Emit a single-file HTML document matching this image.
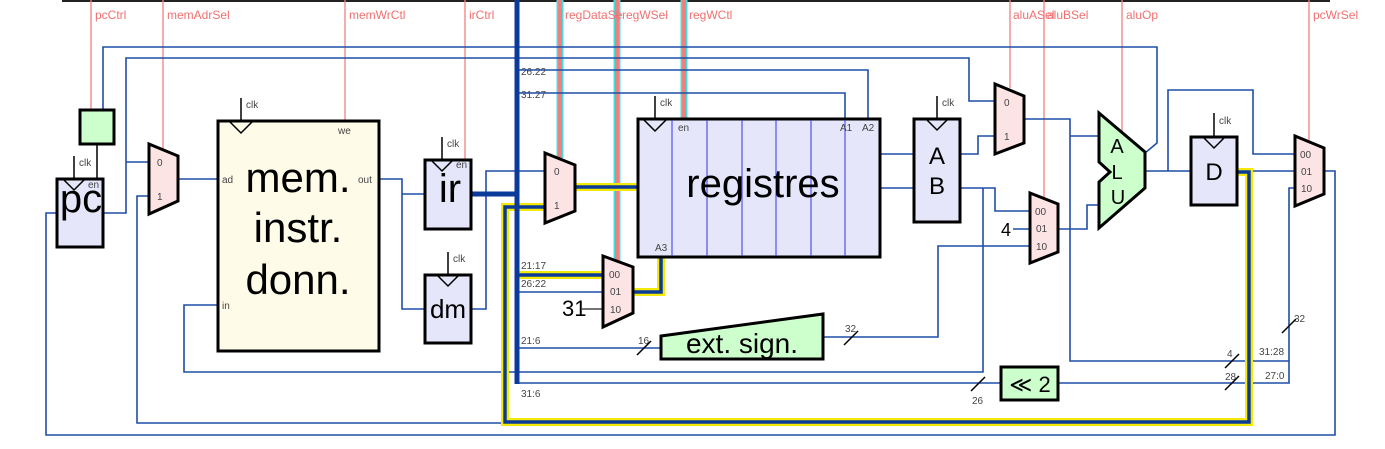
<!DOCTYPE html>
<html><head><meta charset="utf-8"><style>
html,body{margin:0;padding:0;background:#fff;}
svg{display:block;}
text{font-family:"Liberation Sans","DejaVu Sans",sans-serif;}
.c{fill:#f07070;font-size:12px;}
.s{fill:#444;font-size:10px;}
.w{fill:none;stroke:#1f4ea8;stroke-width:1.6;}
.p{stroke:#f08080;stroke-width:1.3;}
</style></head><body>
<svg width="1385" height="449" viewBox="0 0 1385 449" xmlns="http://www.w3.org/2000/svg">
<rect width="1385" height="449" fill="#fff"/>
<line x1="62" y1="1" x2="1330" y2="1" stroke="#222" stroke-width="2"/>

<line class="p" x1="91" y1="0" x2="91" y2="109"/>
<line class="p" x1="163" y1="0" x2="163" y2="150"/>
<line class="p" x1="345" y1="0" x2="345" y2="121"/>
<line class="p" x1="465" y1="0" x2="465" y2="159"/>
<line class="p" x1="1010" y1="0" x2="1010" y2="88"/>
<line class="p" x1="1044" y1="0" x2="1044" y2="199"/>
<line class="p" x1="1122" y1="0" x2="1122" y2="132"/>
<line class="p" x1="1309" y1="0" x2="1309" y2="142"/>
<g stroke="#40e0e0" stroke-width="7"><line x1="560" y1="0" x2="560" y2="158"/><line x1="617" y1="0" x2="617" y2="262"/><line x1="684" y1="0" x2="684" y2="118"/></g>
<g stroke="#f08080" stroke-width="4"><line x1="560" y1="0" x2="560" y2="158"/><line x1="617" y1="0" x2="617" y2="262"/><line x1="684" y1="0" x2="684" y2="118"/></g>
<text class="c" x="95" y="19">pcCtrl</text>
<text class="c" x="167" y="19">memAdrSel</text>
<text class="c" x="349" y="19">memWrCtl</text>
<text class="c" x="469" y="19">irCtrl</text>
<text class="c" x="565" y="19">regDataSe</text>
<text class="c" x="622" y="19">regWSel</text>
<text class="c" x="689" y="19">regWCtl</text>
<text class="c" x="1013" y="19">aluASel</text>
<text class="c" x="1047" y="19">aluBSel</text>
<text class="c" x="1126" y="19">aluOp</text>
<text class="c" x="1313" y="19">pcWrSel</text>

<polyline class="w" points="103,109 103,47 1157,47 1157,143 1145,153"/>
<polyline class="w" points="103,213 126,213 126,58 969,58 969,101 995,101"/>
<polyline class="w" points="126,162 149,162"/>
<polyline class="w" points="178,179 218,179"/>
<polyline class="w" points="379,179 402,179 402,309 424,309"/>
<polyline class="w" points="402,194 424,194"/>
<polyline class="w" points="471,309 486,309 486,171 545,171"/>
<polyline class="w" points="218,305 184,305 184,372 983,372 983,188"/>
<polyline class="w" points="149,196 137,196 137,423 505,423"/>
<polyline class="w" points="56,213 46,213 46,435 1335,435 1335,171 1324,171"/>
<polyline class="w" points="517,70 868,70 868,118"/>
<polyline class="w" points="517,93 845,93 845,118"/>
<polyline class="w" points="517,292 603,292"/>
<polyline class="w" points="517,348 661,348"/>
<polyline class="w" points="517,383 1001,383"/>
<polyline class="w" points="880,154 914,154"/>
<polyline class="w" points="880,188 914,188"/>
<polyline class="w" points="960,154 978,154 978,136 995,136"/>
<polyline class="w" points="960,188 995,188 995,211 1030,211"/>
<polyline class="w" points="823,337 938,337 938,246 1030,246"/>
<polyline class="w" points="1013,229 1030,229"/>
<polyline class="w" points="1024,119 1070,119 1070,361 1289,361"/>
<polyline class="w" points="1070,136 1099,136"/>
<polyline class="w" points="1058,229 1087,229 1087,205 1099,205"/>
<polyline class="w" points="1145,171 1191,171"/>
<polyline class="w" points="1168,171 1168,90 1253,90 1253,154 1295,154"/>
<polyline class="w" points="1237,171 1295,171"/>
<polyline class="w" points="1295,188 1289,188 1289,383 1058,383"/>
<line x1="582" y1="309" x2="603" y2="309" stroke="#222" stroke-width="1.2"/>

<g fill="none" stroke="#f5e90a" stroke-width="8">
<polyline points="1237,172 1249,172 1249,422 505,422 505,207 545,207"/>
<polyline points="575,187 638,187"/>
<polyline points="633,292 661,292 661,257"/>
<polyline points="517,275 603,275"/>
</g>
<g fill="none" stroke="#0a3a9a" stroke-width="3.5">
<polyline points="1237,172 1249,172 1249,422 505,422 505,207 545,207"/>
<polyline points="575,187 638,187"/>
<polyline points="633,292 661,292 661,257"/>
<polyline points="517,275 603,275"/>
</g>
<line x1="517" y1="0" x2="517" y2="384" stroke="#0a3a9a" stroke-width="5"/>
<line x1="471" y1="194" x2="517" y2="194" stroke="#0a3a9a" stroke-width="5"/>

<text class="s" x="521" y="75">26:22</text>
<text class="s" x="521" y="98">31:27</text>
<text class="s" x="521" y="269">21:17</text>
<text class="s" x="521" y="287">26:22</text>
<text class="s" x="521" y="344">21:6</text>
<text class="s" x="521" y="397">31:6</text>
<text class="s" x="638" y="344">16</text>
<text class="s" x="845" y="332">32</text>
<text class="s" x="972" y="404">26</text>
<text class="s" x="1227" y="357">4</text>
<text class="s" x="1225" y="380">28</text>
<text class="s" x="1259" y="355">31:28</text>
<text class="s" x="1265" y="379">27:0</text>
<text class="s" x="1294" y="322">32</text>
<g stroke="#000" stroke-width="1.5">
<line x1="637" y1="355" x2="651" y2="341"/>
<line x1="844" y1="345" x2="858" y2="331"/>
<line x1="971" y1="391" x2="985" y2="377"/>
<line x1="1225" y1="368" x2="1239" y2="354"/>
<line x1="1225" y1="390" x2="1239" y2="376"/>
<line x1="1282" y1="333" x2="1296" y2="319"/>
</g>

<rect x="80" y="110" width="34" height="34" fill="#ccffcc" stroke="#000" stroke-width="3"/>
<line x1="97" y1="145" x2="97" y2="178" stroke="#000" stroke-width="1.5"/>
<rect x="57" y="179" width="46" height="68" fill="#e6e6fa" stroke="#000" stroke-width="3"/>
<line x1="74" y1="156" x2="74" y2="179" stroke="#000" stroke-width="1.5"/>
<polyline points="64,180 74,190 84,180" fill="none" stroke="#000" stroke-width="1.5"/>
<text class="s" x="79" y="166">clk</text>
<text class="s" x="88" y="188">en</text>
<text x="81" y="212" font-size="40" text-anchor="middle">pc</text>

<polygon points="149,144 178,156 178,201 149,214" fill="#fce4e4" stroke="#000" stroke-width="3"/>
<text class="s" x="157" y="166">0</text>
<text class="s" x="157" y="200">1</text>

<rect x="218" y="121" width="161" height="230" fill="#fefbe8" stroke="#000" stroke-width="3"/>
<line x1="241" y1="98" x2="241" y2="121" stroke="#000" stroke-width="1.5"/>
<polyline points="230,122 241,133 252,122" fill="none" stroke="#000" stroke-width="1.5"/>
<text class="s" x="246" y="108">clk</text>
<text class="s" x="338" y="134">we</text>
<text class="s" x="222" y="183">ad</text>
<text class="s" x="358" y="183">out</text>
<text class="s" x="222" y="309">in</text>
<g font-size="42" text-anchor="middle"><text x="298" y="192">mem.</text><text x="298" y="242">instr.</text><text x="298" y="294">donn.</text></g>

<rect x="425" y="160" width="46" height="69" fill="#e6e6fa" stroke="#000" stroke-width="3"/>
<line x1="442" y1="137" x2="442" y2="160" stroke="#000" stroke-width="1.5"/>
<polyline points="432,161 442,171 452,161" fill="none" stroke="#000" stroke-width="1.5"/>
<text class="s" x="447" y="147">clk</text>
<text class="s" x="456" y="168">en</text>
<text x="450" y="202" font-size="40" text-anchor="middle">ir</text>
<rect x="425" y="275" width="46" height="68" fill="#e6e6fa" stroke="#000" stroke-width="3"/>
<line x1="448" y1="252" x2="448" y2="275" stroke="#000" stroke-width="1.5"/>
<polyline points="438,276 448,286 458,276" fill="none" stroke="#000" stroke-width="1.5"/>
<text class="s" x="453" y="262">clk</text>
<text x="448" y="318" font-size="26" text-anchor="middle">dm</text>

<polygon points="545,153 575,165 575,211 545,223" fill="#fce4e4" stroke="#000" stroke-width="3"/>
<text class="s" x="554" y="175">0</text>
<text class="s" x="554" y="209">1</text>

<rect x="638" y="119" width="242" height="138" fill="#e6e6fa" stroke="#000" stroke-width="3"/>
<g stroke="#3333ee" stroke-width="1"><line x1="672" y1="120" x2="672" y2="256"/><line x1="707" y1="120" x2="707" y2="256"/><line x1="742" y1="120" x2="742" y2="256"/><line x1="776" y1="120" x2="776" y2="256"/><line x1="811" y1="120" x2="811" y2="256"/><line x1="845" y1="120" x2="845" y2="256"/></g>
<line x1="655" y1="96" x2="655" y2="119" stroke="#000" stroke-width="1.5"/>
<polyline points="644,120 655,131 666,120" fill="none" stroke="#000" stroke-width="1.5"/>
<text class="s" x="660" y="106">clk</text>
<text class="s" x="678" y="131">en</text>
<text class="s" x="840" y="131">A1</text>
<text class="s" x="862" y="131">A2</text>
<text class="s" x="655" y="251">A3</text>
<text x="763" y="197" font-size="40" text-anchor="middle">registres</text>

<polygon points="603,256 633,267 633,313 603,327" fill="#fce4e4" stroke="#000" stroke-width="3"/>
<text class="s" x="609" y="278">00</text>
<text class="s" x="610" y="295">01</text>
<text class="s" x="610" y="313">10</text>
<text x="562" y="316" font-size="22">31</text>

<polygon points="661,336 823,314 823,359 661,359" fill="#ccffcc" stroke="#000" stroke-width="3"/>
<text x="742" y="353" font-size="28" text-anchor="middle">ext. sign.</text>

<rect x="914" y="119" width="46" height="103" fill="#e6e6fa" stroke="#000" stroke-width="3"/>
<line x1="937" y1="96" x2="937" y2="119" stroke="#000" stroke-width="1.5"/>
<polyline points="927,120 937,130 947,120" fill="none" stroke="#000" stroke-width="1.5"/>
<text class="s" x="942" y="106">clk</text>
<text x="937" y="164" font-size="24" text-anchor="middle">A</text>
<text x="937" y="194" font-size="24" text-anchor="middle">B</text>

<polygon points="995,84 1024,96 1024,143 995,154" fill="#fce4e4" stroke="#000" stroke-width="3"/>
<text class="s" x="1004" y="106">0</text>
<text class="s" x="1004" y="140">1</text>
<polygon points="1030,193 1058,204 1058,252 1030,263" fill="#fce4e4" stroke="#000" stroke-width="3"/>
<text class="s" x="1035" y="215">00</text>
<text class="s" x="1036" y="232">01</text>
<text class="s" x="1036" y="250">10</text>
<text x="1001" y="236" font-size="18">4</text>

<polygon points="1099,113 1145,152 1145,188 1099,228 1099,182 1110,172 1099,162" fill="#ccffcc" stroke="#000" stroke-width="3"/>
<g font-size="20" text-anchor="middle"><text x="1117" y="153">A</text><text x="1117" y="179">L</text><text x="1118" y="204">U</text></g>

<rect x="1191" y="137" width="46" height="68" fill="#e6e6fa" stroke="#000" stroke-width="3"/>
<line x1="1214" y1="113" x2="1214" y2="137" stroke="#000" stroke-width="1.5"/>
<polyline points="1204,138 1214,148 1224,138" fill="none" stroke="#000" stroke-width="1.5"/>
<text class="s" x="1219" y="124">clk</text>
<text x="1214" y="180" font-size="24" text-anchor="middle">D</text>

<polygon points="1295,136 1324,148 1324,194 1295,206" fill="#fce4e4" stroke="#000" stroke-width="3"/>
<text class="s" x="1300" y="158">00</text>
<text class="s" x="1301" y="175">01</text>
<text class="s" x="1301" y="192">10</text>

<rect x="1001" y="367" width="57" height="33" fill="#ccffcc" stroke="#000" stroke-width="3"/>
<text x="1030" y="392" font-size="22" text-anchor="middle">≪ 2</text>
</svg>
</body></html>
